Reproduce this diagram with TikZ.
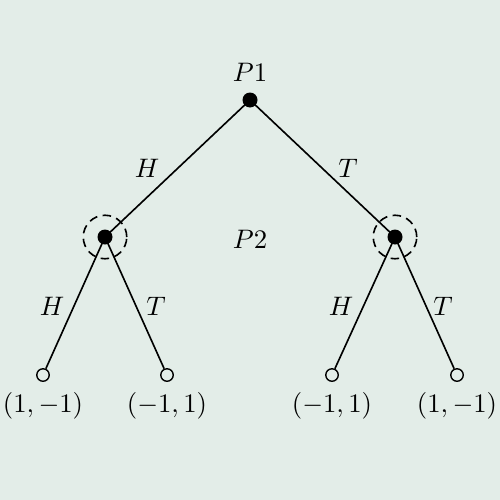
\documentclass[tikz,border=0pt]{standalone}
\begin{document}
\begin{tikzpicture}[x=0.4pt,y=-0.4pt,
  solid node/.style={circle,fill=black,inner sep=0pt,minimum size=6pt},
  hollow node/.style={circle,draw=black,line width=0.55pt,inner sep=0pt,minimum size=5pt},
  edge/.style={line width=0.65pt},
  info/.style={circle,draw=black,dash pattern=on 3.4pt off 2.2pt,line width=0.65pt,inner sep=0pt,minimum size=17.4pt},
  lbl/.style={inner sep=0pt,scale=1.07}]
\fill[color={rgb,255:red,227;green,237;blue,232}] (0,0) rectangle (500,500);
\useasboundingbox (0,0) rectangle (500,500);
\node[solid node] (r) at (250,100) {};
\node[solid node] (a) at (105,237) {};
\node[solid node] (b) at (395,237) {};
\node[info] (ia) at (105,237) {};
\node[info] (ib) at (395,237) {};
\node[hollow node] (l1) at (43,375) {};
\node[hollow node] (l2) at (167,375) {};
\node[hollow node] (l3) at (332,375) {};
\node[hollow node] (l4) at (457,375) {};
\draw[edge] (r.center) -- (a.center);
\draw[edge] (r.center) -- (b.center);
\draw[edge] (a.center) -- (l1);
\draw[edge] (a.center) -- (l2);
\draw[edge] (b.center) -- (l3);
\draw[edge] (b.center) -- (l4);
\node[lbl] (p1) at (250,72) {$P1$};
\node[lbl] (p2) at (250,239) {$P2$};
\node[lbl] (h0) at (147,168) {$H$};
\node[lbl] (t0) at (348,168) {$T$};
\node[lbl] (h1) at (52,306) {$H$};
\node[lbl] (t1) at (156,306) {$T$};
\node[lbl] (h2) at (341,306) {$H$};
\node[lbl] (t2) at (443,306) {$T$};
\node[lbl] (v1) at (43,406) {$(1,-1)$};
\node[lbl] (v2) at (167,406) {$(-1,1)$};
\node[lbl] (v3) at (332,406) {$(-1,1)$};
\node[lbl] (v4) at (457,406) {$(1,-1)$};
\end{tikzpicture}
\end{document}
